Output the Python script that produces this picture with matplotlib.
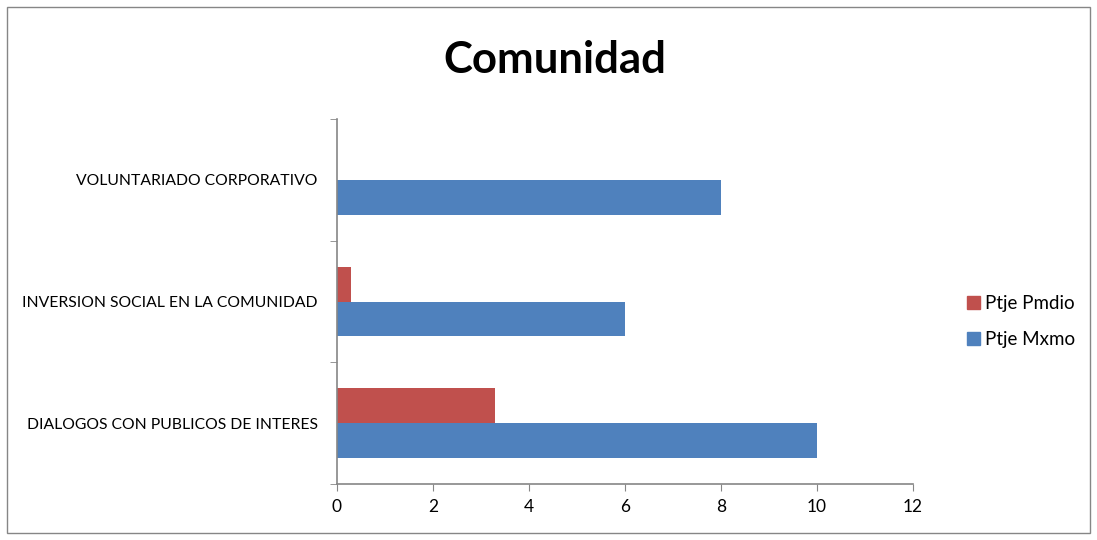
import matplotlib
matplotlib.use("Agg")
import matplotlib.pyplot as plt
from matplotlib.patches import Rectangle, Patch
import numpy as np

categories = ["DIALOGOS CON PUBLICOS DE INTERES",
              "INVERSION SOCIAL EN LA COMUNIDAD",
              "VOLUNTARIADO CORPORATIVO"]
ptje_mxmo = [10, 6, 8]
ptje_pmdio = [3.3, 0.3, 0]
x_ticks = [0, 2, 4, 6, 8, 10, 12]

blue = "#4F81BD"
red = "#C0504D"
axis_gray = "#868686"

plt.rcParams["font.family"] = ["Lato", "DejaVu Sans"]

fig = plt.figure(figsize=(10.97, 5.40), dpi=100)
ax = fig.add_axes([0.3072, 0.1037, 0.5251, 0.6759])

y = np.arange(len(categories))
h = 0.285
ax.barh(y - h / 2, ptje_mxmo, height=h, color=blue, label="Ptje Mxmo")
ax.barh(y + h / 2, ptje_pmdio, height=h, color=red, label="Ptje Pmdio")

ax.set_xlim(0, 12)
ax.set_ylim(-0.5, len(categories) - 0.5)
ax.set_xticks(x_ticks)
ax.set_xticklabels([str(t) for t in x_ticks], fontsize=12.5)
ax.set_yticks(y)
ax.set_yticklabels(categories, fontsize=11.3)
ax.set_yticks(np.arange(-0.5, len(categories)), minor=True)
ax.tick_params(axis="y", which="major", length=0, pad=14)
ax.tick_params(axis="y", which="minor", length=5, color=axis_gray, direction="out")
ax.tick_params(axis="x", length=5, color=axis_gray, direction="out", pad=6)

for s in ("top", "right"):
    ax.spines[s].set_visible(False)
for s in ("left", "bottom"):
    ax.spines[s].set_color(axis_gray)
    ax.spines[s].set_linewidth(1.2)

fig.text(0.506, 0.888, "Comunidad", ha="center", va="center",
         fontsize=31.5, fontweight="bold")

handles = [Patch(color=red, label="Ptje Pmdio"), Patch(color=blue, label="Ptje Mxmo")]
fig.legend(handles=handles, loc="center left", bbox_to_anchor=(0.866, 0.405),
           frameon=False, fontsize=13.5, handlelength=0.7, handleheight=0.7,
           handletextpad=0.25, labelspacing=1.0)

fig.patches.append(Rectangle((0.006, 0.013), 0.988, 0.974, transform=fig.transFigure,
                             fill=False, edgecolor=axis_gray, linewidth=1))

fig.savefig("out.png", dpi=100)
